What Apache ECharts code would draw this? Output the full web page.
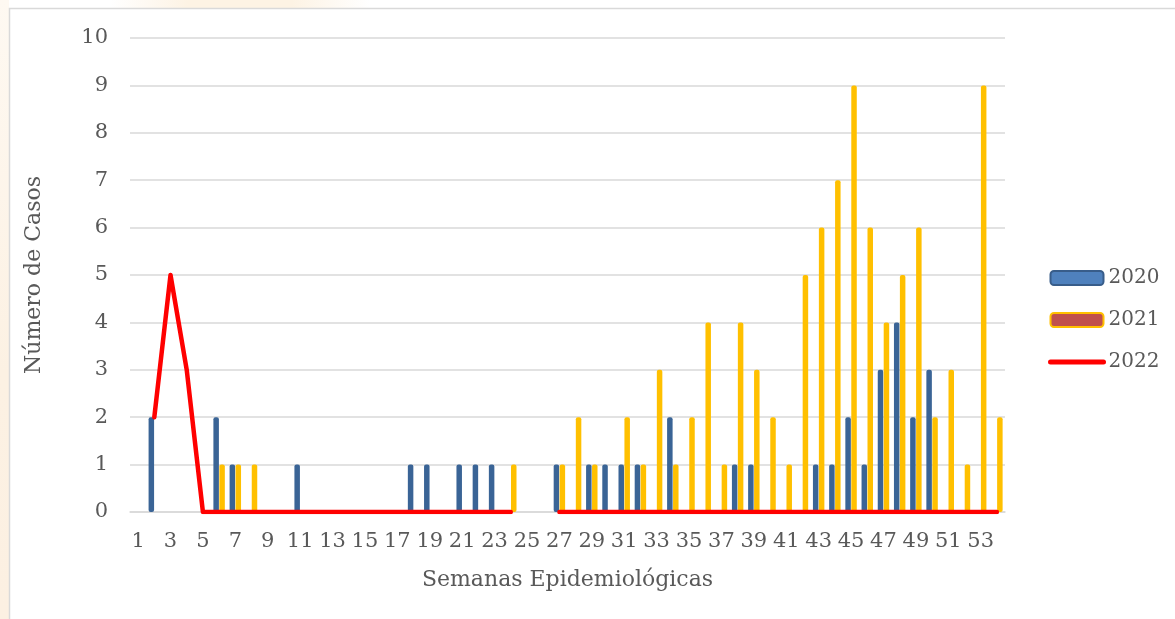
<!DOCTYPE html>
<html>
<head>
<meta charset="utf-8">
<script src="https://cdn.jsdelivr.net/npm/echarts@6/dist/echarts.min.js"></script>
<style>
html,body{margin:0;padding:0;background:#fff;}
#chart{width:1175px;height:619px;}
</style>
</head>
<body>
<div id="chart"></div>
<script>
var weeks = [];
for (var w = 1; w <= 54; w++) weeks.push(String(w));

var y2020 = [0,2,0,0,0,2,1,0,0,0, 1,0,0,0,0,0,0,1,1,0, 1,1,1,0,0,0,1,0,1,1, 1,1,0,2,0,0,0,1,1,0, 0,0,1,1,2,1,3,4,2,3, 0,0,0,0];
var y2021 = [0,0,0,0,0,1,1,1,0,0, 0,0,0,0,0,0,0,0,0,0, 0,0,0,1,0,0,1,2,1,0, 2,1,3,1,2,4,1,4,3,2, 1,5,6,7,9,6,4,5,6,2, 3,1,9,2];
var y2022 = [null,2,5,3,0,0,0,0,0,0, 0,0,0,0,0,0,0,0,0,0, 0,0,0,0,null,null,0,0,0,0, 0,0,0,0,0,0,0,0,0,0, 0,0,0,0,0,0,0,0,0,0, 0,0,0,0];

var FONT = 'DejaVu Serif';
var TXT = '#595959';

var chart = echarts.init(document.getElementById('chart'), null, {renderer: 'canvas'});
chart.setOption({
  backgroundColor: '#ffffff',
  animation: false,
  graphic: [
    {type: 'rect', z: -10, shape: {x: 0, y: 0, width: 9, height: 619},
      style: {fill: new echarts.graphic.LinearGradient(0, 0, 0, 1, [
        {offset: 0, color: '#FEF9F2'}, {offset: 0.6, color: '#FCF1E3'}, {offset: 1, color: '#FCF0E2'}])}},
    {type: 'rect', z: -10, shape: {x: 110, y: 0, width: 260, height: 8},
      style: {fill: new echarts.graphic.LinearGradient(0, 0, 1, 0, [
        {offset: 0, color: '#FFFFFF'}, {offset: 0.3, color: '#FDF3E4'}, {offset: 0.7, color: '#FDF3E4'}, {offset: 1, color: '#FFFFFF'}])}},
    {type: 'rect', z: -9, shape: {x: 9.5, y: 8.5, width: 1200, height: 700}, style: {fill: '#ffffff', stroke: '#D9D9D9', lineWidth: 1.5}}
  ],
  grid: {left: 130, right: 170, top: 38, bottom: 107, containLabel: false},
  legend: {
    orient: 'vertical',
    left: 1048,
    top: 268,
    padding: 0,
    itemWidth: 53,
    itemHeight: 14,
    itemGap: 22,
    textStyle: {fontFamily: FONT, fontSize: 20, color: TXT, padding: [0, 0, 0, 0]},
    data: [
      {name: '2020', icon: 'roundRect', itemStyle: {color: '#4F81BD', borderColor: '#385D8A', borderWidth: 2}},
      {name: '2021', icon: 'roundRect', itemStyle: {color: '#C0504D', borderColor: '#FFC000', borderWidth: 2}},
      {name: '2022', itemStyle: {opacity: 0}, lineStyle: {color: '#FF0000', width: 5, cap: 'round'}}
    ]
  },
  xAxis: {
    type: 'category',
    data: weeks,
    boundaryGap: true,
    axisLine: {show: true, lineStyle: {color: '#D9D9D9', width: 1.5}},
    axisTick: {show: false},
    axisLabel: {interval: 1, margin: 19, fontFamily: FONT, fontSize: 21, color: TXT},
    name: 'Semanas Epidemiológicas',
    nameLocation: 'middle',
    nameGap: 57,
    nameTextStyle: {fontFamily: FONT, fontSize: 22, color: TXT}
  },
  yAxis: {
    type: 'value',
    min: 0,
    max: 10,
    interval: 1,
    axisLine: {show: false},
    axisTick: {show: false},
    axisLabel: {margin: 22, fontFamily: FONT, fontSize: 21, color: TXT},
    splitLine: {lineStyle: {color: '#D9D9D9', width: 1.5}},
    name: 'Número de Casos',
    nameLocation: 'middle',
    nameRotate: 90,
    nameGap: 85,
    nameTextStyle: {fontFamily: FONT, fontSize: 22, color: TXT}
  },
  series: [
    {
      name: '2020', type: 'bar', data: y2020,
      barWidth: 5.5, barGap: '8%',
      itemStyle: {color: '#3A6496', borderRadius: 2},
      z: 2
    },
    {
      name: '2021', type: 'bar', data: y2021,
      barWidth: 5.5, barGap: '8%',
      itemStyle: {color: '#FFC000', borderRadius: 2},
      z: 2
    },
    {
      name: '2022', type: 'line', data: y2022,
      symbol: 'none', showSymbol: false,
      connectNulls: false,
      lineStyle: {color: '#FF0000', width: 4.5, cap: 'round', join: 'round'},
      itemStyle: {color: '#FF0000'},
      z: 5
    }
  ]
});
</script>
</body>
</html>
